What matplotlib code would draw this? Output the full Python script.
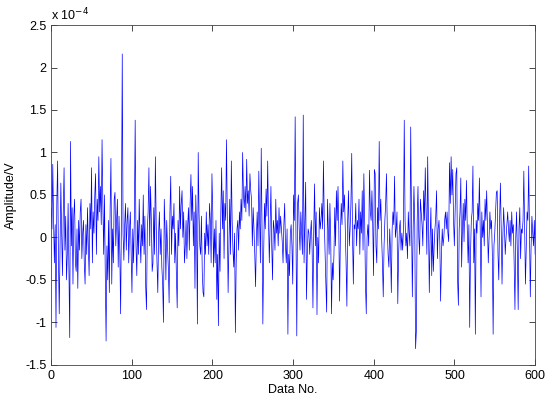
import numpy as np
import matplotlib.pyplot as plt
from matplotlib.ticker import FuncFormatter

# amplitude values, in units of 1e-4 V (one row = 20 samples)
amp = [
    0.35, 0.1, 0.86, 0.2, -0.3, 0.15, -1.06, 0.4, 0.9, -0.2, -0.9, -0.1, 0.64, 0.05, -0.45, 0.3, 0.82, -0.15, 0.25, -0.5,
    -0.2, 0.4, -0.35, -1.18, 1.13, -0.1, 0.35, -0.55, 0.25, 0.45, -0.3, -0.4, 0.1, -0.6, 0.2, -0.15, 0.3, 0.45, -0.25, 0.05,
    0.2, -0.3, -0.55, 0.15, -0.2, 0.35, -0.1, -0.45, 0.4, 0.1, 0.82, -0.3, 0.3, 0.05, 0.5, 0.75, -0.2, 0.45, 0.2, 0.95,
    0.3, 0.6, 0.15, 1.15, 0.4, -0.2, 0.5, -0.45, -1.22, -0.1, -0.5, 0.2, -0.65, 0.35, 0.93, -0.55, 0.1, -0.3, 0.45, 0.53,
    -0.1, 0.2, 0.45, -0.35, 0.25, -0.2, -0.9, 0.3, 2.16, 0.05, -0.27, 0.15, 0.4, -0.15, 0.2, 0.35, -0.3, 0.1, 0.3, -0.2,
    -0.65, 0.1, -0.3, 0.25, 1.38, -0.1, -0.45, 0.2, -0.2, 0.45, 0.0, -0.3, 0.15, -0.1, 0.5, -0.2, 0.25, -0.58, -0.85, 0.1,
    0.3, 0.82, -0.1, 0.6, 0.2, -0.4, -0.3, 0.35, -0.2, 0.95, 0.15, -0.3, -0.65, 0.05, 0.3, -0.2, 0.1, -0.35, -0.55, -1.0,
    0.45, 0.1, -0.5, 0.2, -0.1, -0.35, -0.77, 0.3, 0.72, -0.2, 0.25, 0.1, 0.4, -0.3, 0.05, -0.45, -0.83, 0.2, -0.1, 0.6,
    0.1, 0.4, 0.55, 0.0, 0.3, -0.3, -0.1, 0.2, -0.25, 0.15, 0.35, -0.15, 0.4, 0.74, 0.2, 0.6, -0.1, 0.3, -0.6, 0.5,
    0.1, -1.02, 1.0, 0.3, -0.1, -0.2, 0.25, -0.4, -0.65, -0.7, 0.05, -0.2, 0.3, -0.1, 0.15, -0.2, 0.4, 0.2, -0.3, 0.75,
    0.3, -0.35, 0.1, -0.3, 0.2, -0.73, -0.2, -1.04, 0.05, -0.4, 0.3, 0.82, 0.1, 0.55, -0.25, 0.4, 0.2, 1.15, 0.3, -0.65,
    -0.1, 0.45, -0.2, 0.9, 0.2, -0.15, -0.35, 0.05, -1.12, -0.3, 0.1, 0.2, -0.15, 0.3, 0.1, 0.45, 0.2, 1.0, 0.5, 0.35,
    0.6, 0.3, 0.92, 0.4, 0.55, 0.25, 0.75, 0.55, 0.45, -0.1, 0.35, 0.1, -0.2, -0.58, 0.0, 0.3, -0.1, 0.78, 0.2, -0.3,
    1.05, 0.1, -1.02, -0.2, 0.4, 0.1, 0.57, 0.25, 0.9, 0.2, -0.3, 0.15, 0.6, -0.1, -0.5, 0.2, 0.1, -0.15, 0.45, 0.05,
    0.2, -0.1, 0.35, 0.05, 0.25, 0.1, -0.05, -0.3, 0.15, 0.4, -0.1, -0.3, 0.1, -1.14, -0.2, -0.45, 0.05, 0.15, -0.1, -0.55,
    0.5, 0.2, 1.42, 0.0, -1.16, 0.4, 0.5, 0.1, -0.15, 0.3, 0.05, -0.2, 1.44, -0.3, 0.2, 0.65, -0.73, -0.2, 0.1, 0.05,
    -0.2, 0.05, 0.2, -0.15, -0.83, 0.1, 0.63, -0.1, 0.3, -0.91, 0.0, -0.3, 0.35, 0.1, 0.2, 0.4, 0.1, 0.9, 0.2, -0.2,
    -0.55, -0.88, 0.45, 0.1, -0.2, 0.4, 0.0, -0.9, -0.3, -0.5, -0.2, 0.35, -0.1, 0.55, 0.2, 0.6, 0.1, -0.75, 0.05, 0.4,
    0.15, 0.9, 0.3, 0.5, 0.1, -0.3, -0.81, 0.2, 0.55, -0.1, 0.1, 0.4, 0.99, 0.0, -0.55, 0.15, 0.1, 0.4, -0.1, 0.2,
    0.1, 0.45, -0.2, 0.3, 0.05, 0.55, -0.15, 0.75, 0.2, -0.55, -0.9, 0.0, 0.15, -0.1, 0.79, 0.3, 0.2, 0.55, 0.15, -0.45,
    0.8, 0.75, -0.1, -0.3, 0.35, 0.1, 1.13, 0.2, 0.45, 0.0, -0.3, -0.7, -0.1, 0.2, 0.4, 0.75, 0.1, -0.2, -0.35, 0.1,
    -0.15, -0.65, 0.1, 0.3, 0.15, 0.72, 0.0, 0.1, 0.3, -0.78, -0.2, 0.1, 0.2, -0.15, 0.05, -0.15, 0.1, 1.38, 0.2, -0.1,
    0.05, -0.25, 0.3, 0.05, -0.1, 1.3, 0.2, -0.7, 0.1, 0.6, 0.15, -1.31, -1.1, 0.2, 0.6, 0.0, -0.2, 0.45, 0.3, 0.15,
    -0.1, 0.55, 0.2, 0.82, 0.3, -0.2, 0.95, 0.1, -0.65, 0.0, 0.35, -0.45, 0.1, -0.4, -0.1, 0.1, 0.25, 0.55, -0.25, 0.1,
    0.2, -0.05, -0.75, -0.2, 0.1, -0.1, 0.0, 0.2, 0.3, 0.1, 0.3, 0.05, -0.05, 0.88, 0.4, 0.95, 0.5, 0.8, 0.2, -0.1,
    0.3, 0.75, 0.82, -0.5, -0.8, 0.1, 0.3, 0.7, -0.35, 0.1, 0.4, -0.05, 0.45, 0.2, 0.67, 0.1, -0.3, 0.15, -1.06, -0.2,
    0.2, 0.3, 0.84, -0.3, 0.1, -1.14, 0.2, 0.05, 0.4, 0.2, 0.7, 0.1, -0.7, 0.3, 0.0, 0.2, -0.1, 0.45, 0.2, 0.55,
    0.1, -0.3, 0.0, 0.3, 0.1, 0.2, -0.2, -1.14, -0.1, 0.05, 0.3, 0.53, 0.55, -0.2, -0.5, 0.2, 0.64, 0.1, -0.55, 0.0,
    0.35, 0.1, -0.2, 0.0, 0.15, 0.3, 0.1, -0.05, 0.2, -0.1, 0.3, 0.05, 0.15, -0.3, -0.85, 0.0, 0.3, -0.2, -0.85, 0.1,
    0.35, -0.25, 0.1, 0.05, 0.2, 0.78, 0.1, -0.55, -0.1, 0.3, 0.2, 0.84, 0.1, -0.7, -0.1, 0.25, 0.05, -0.1, 0.2, -0.2,
]
x_ticks = [0, 100, 200, 300, 400, 500, 600]
y_ticks = [-1.5, -1, -0.5, 0, 0.5, 1, 1.5, 2, 2.5]

plt.rcParams['font.family'] = ['Liberation Sans', 'DejaVu Sans']
plt.rcParams['font.size'] = 9

fig = plt.figure(figsize=(5.5, 4.04), dpi=100)
ax = fig.add_axes([0.093, 0.097, 0.88, 0.841])

data_no = np.arange(len(amp)) * 600 / (len(amp) - 1)
ax.plot(data_no, amp, color='blue', linewidth=0.5)

ax.set_xlim(0, 600)
ax.set_ylim(-1.5, 2.5)
ax.set_xticks(x_ticks)
ax.set_yticks(y_ticks)
ax.yaxis.set_major_formatter(FuncFormatter(lambda v, p: '%g' % v))
ax.tick_params(direction='in', top=True, right=True, length=4, width=0.5, labelsize=9)
for s in ax.spines.values():
    s.set_linewidth(0.6)
    s.set_color('#444444')

ax.set_xlabel('Data No.', fontsize=9, labelpad=2)
ax.set_ylabel('Amplitude/V', fontsize=9, labelpad=6)
ax.text(0.0, 1.005, r'x 10$^{-4}$', transform=ax.transAxes, fontsize=9, va='bottom', ha='left')

fig.savefig('out.png', dpi=100, facecolor='white')
